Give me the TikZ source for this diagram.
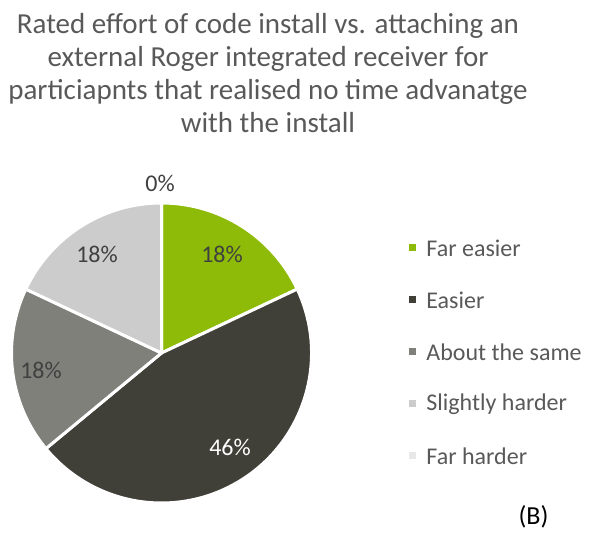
\documentclass[tikz,border=0pt]{standalone}
\usepackage{fontspec}
\setmainfont{Carlito}
\usetikzlibrary{positioning}

\definecolor{fareasy}{HTML}{8DBB07}
\definecolor{easy}{HTML}{403F38}
\definecolor{same}{HTML}{80807B}
\definecolor{slight}{HTML}{CCCCCC}
\definecolor{farhard}{HTML}{E8E8E8}
\definecolor{txt}{HTML}{595959}
\definecolor{lbl}{HTML}{404040}

\begin{document}
\begin{tikzpicture}[x=1pt, y=1pt,
  slice/.style = {draw=white, line width=3pt, line join=round},
  pct/.style = {font=\fontsize{24}{26}\selectfont, text=lbl},
  key/.style = {minimum size=7pt, inner sep=0pt},
  keytext/.style = {font=\fontsize{24}{26}\selectfont, text=txt, anchor=west, inner sep=0pt}]
\useasboundingbox (0,0) rectangle (598,533);

% title
\node[align=center, text=txt, inner sep=0pt, font=\fontsize{29}{33}\selectfont] (title) at (268,460)
  {Rated effort of code install vs. attaching an\\
   external Roger integrated receiver for\\
   particiapnts that realised no time advanatge\\
   with the install};

% pie, centre and radius
\coordinate (c) at (161.5,180);
\fill[fareasy, slice] (c) -- ++(90:150) arc (90:25.2:150) -- cycle;
\fill[easy, slice] (c) -- ++(25.2:150) arc (25.2:-140.4:150) -- cycle;
\fill[same, slice] (c) -- ++(-140.4:150) arc (-140.4:-205.2:150) -- cycle;
\fill[slight, slice] (c) -- ++(154.8:150) arc (154.8:90:150) -- cycle;

% percentages
\node[pct] (p1) at (222,279) {18\%};
\node[pct, text=white] (p2) at (230,86) {46\%};
\node[pct] (p3) at (41,163) {18\%};
\node[pct] (p4) at (97,279) {18\%};
\node[pct] (p5) at (160,350) {0\%};

% legend
\node[key, fill=fareasy] (k1) at (412.5,285) {};
\node[key, fill=easy] (k2) at (412.5,233) {};
\node[key, fill=same] (k3) at (412.5,181) {};
\node[key, fill=slight] (k4) at (412.5,129) {};
\node[key, fill=farhard] (k5) at (412.5,77) {};
\node[keytext, right=10pt of k1] (t1) {Far easier};
\node[keytext, right=10pt of k2] (t2) {Easier};
\node[keytext, right=10pt of k3] (t3) {About the same};
\node[keytext, right=10pt of k4] (t4) {Slightly harder};
\node[keytext, right=10pt of k5] (t5) {Far harder};

\node[font=\fontsize{26}{28}\selectfont, inner sep=0pt] (tag) at (533.5,16) {(B)};
\end{tikzpicture}
\end{document}
